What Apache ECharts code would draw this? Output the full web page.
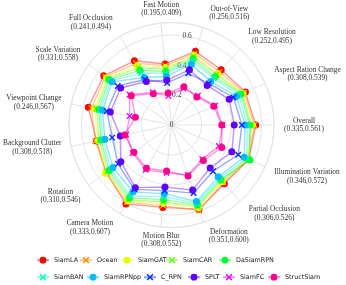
<!DOCTYPE html>
<html><head><meta charset="utf-8">
<script src="https://cdn.jsdelivr.net/npm/echarts@6/dist/echarts.min.js"></script>
<style>html,body{margin:0;padding:0;background:#fff}#c{width:346px;height:285px}</style>
</head><body><div id="c"></div>
<script>
const attributes = ['Overall','Aspect Ration Change','Low Resolution','Out-of-View','Fast Motion','Full Occlusion','Scale Variation','Viewpoint Change','Background Clutter','Rotation','Camera Motion','Motion Blur','Deformation','Partial Occlusion','Illumination Variation'];
const rangeMin = [0.335,0.308,0.252,0.256,0.195,0.241,0.331,0.246,0.308,0.310,0.333,0.308,0.351,0.306,0.346];
const rangeMax = [0.561,0.539,0.495,0.516,0.409,0.494,0.558,0.567,0.518,0.546,0.607,0.552,0.600,0.526,0.572];
const radialTicks = [0, 0.2, 0.4, 0.6];
const RMAX = 0.683;

const trackers = ['SiamLA','Ocean','SiamGAT','SiamCAR','DaSiamRPN','SiamBAN','SiamRPNpp','C_RPN','SPLT','SiamFC','StructSiam'];
const markers  = ['o','x','o','x','o','x','o','x','o','x','o'];
const colors   = ['#ff0000','#ff8b00','#e8ff00','#5dff00','#00ff2e','#00ffb9','#00b9ff','#002eff','#5d00ff','#e800ff','#ff008b'];

// values per attribute, in the order of `attributes`
const SiamLA     = [0.561,0.539,0.495,0.516,0.409,0.494,0.558,0.567,0.510,0.540,0.607,0.552,0.590,0.526,0.565];
const Ocean      = [0.552,0.530,0.478,0.500,0.398,0.475,0.545,0.545,0.518,0.538,0.595,0.540,0.600,0.515,0.560];
const SiamGAT    = [0.540,0.522,0.460,0.488,0.385,0.455,0.535,0.525,0.500,0.546,0.585,0.525,0.580,0.508,0.555];
const SiamCAR    = [0.530,0.515,0.450,0.478,0.375,0.440,0.525,0.510,0.492,0.528,0.575,0.515,0.570,0.500,0.560];
const DaSiamRPN  = [0.522,0.505,0.433,0.464,0.358,0.420,0.515,0.495,0.480,0.515,0.560,0.500,0.560,0.490,0.572];
const SiamBAN    = [0.505,0.490,0.420,0.448,0.345,0.400,0.500,0.485,0.468,0.500,0.545,0.480,0.548,0.478,0.550];
const SiamRPNpp  = [0.491,0.473,0.390,0.426,0.325,0.365,0.489,0.470,0.454,0.482,0.515,0.460,0.536,0.465,0.530];
const C_RPN      = [0.469,0.452,0.372,0.362,0.282,0.350,0.443,0.440,0.404,0.440,0.495,0.440,0.477,0.414,0.487];
const SPLT       = [0.418,0.421,0.355,0.387,0.300,0.335,0.419,0.417,0.349,0.417,0.482,0.415,0.456,0.385,0.440];
const SiamFC     = [0.340,0.318,0.262,0.256,0.195,0.250,0.345,0.285,0.308,0.318,0.345,0.320,0.351,0.306,0.346];
const StructSiam = [0.335,0.308,0.252,0.268,0.215,0.241,0.331,0.246,0.318,0.310,0.333,0.308,0.358,0.318,0.367];
const trackerValues = [SiamLA,Ocean,SiamGAT,SiamCAR,DaSiamRPN,SiamBAN,SiamRPNpp,C_RPN,SPLT,SiamFC,StructSiam];

// ---- layout / style constants ----
const X_SYMBOL = 'path://M1.5,0L5,3.5L8.5,0L10,1.5L6.5,5L10,8.5L8.5,10L5,6.5L1.5,10L0,8.5L3.5,5L0,1.5Z';
const SERIF = 'Liberation Serif';
const CENTER = [171.5, 125];
const RADIUS = 102.5;
const GRID = '#e4e4e4';
// small label nudges [dx, dy] (px) relative to the default radar name anchor
const NAME_SHIFT = [[0,0],[0,-5],[1.5,-5],[3,-5],[1.5,-4],[-2.5,-5],[0,-5],[0,1],[0,-1],[0,5],[-2,5],[1.5,3],[2.5,4],[2,5],[0,6]];
const CENTER_NAMES = [4, 11];
// legend rows
const LEGEND_ROWS = [{top: 256.8, left: [36, 79, 120, 165, 218]}, {top: 273.8, left: [36, 86, 143, 187, 222, 267]}];

const symbolOf = k => markers[k] === 'x' ? X_SYMBOL : 'circle';
const sizeOf = k => markers[k] === 'x' ? 6.5 : 7;

const chart = echarts.init(document.getElementById('c'), null, {renderer: 'canvas'});

const legendText = {fontFamily: 'DejaVu Sans', fontSize: 6.4, color: '#222'};
const legends = [];
let li = 0;
LEGEND_ROWS.forEach(row => {
  row.left.forEach(x => {
    legends.push({left: x, top: row.top, padding: 0, itemWidth: 12, itemHeight: 8.5, itemGap: 0,
      data: [trackers[li]], textStyle: legendText});
    li++;
  });
});

const indicators = attributes.map((a, i) => {
  const ang = i * 2 * Math.PI / attributes.length;
  const c = Math.cos(ang);
  const align = CENTER_NAMES.includes(i) ? 'center' : (c > 0 ? 'left' : 'right');
  const [dx, dy] = NAME_SHIFT[i];
  const pad = [dy > 0 ? 2 * dy : 0,
               (align === 'right' && dx < 0) ? -dx : 0,
               dy < 0 ? -2 * dy : 0,
               (align === 'left' && dx > 0) ? dx : ((align === 'center' && dx > 0) ? 2 * dx : 0)];
  return {name: a, min: 0, max: RMAX, nameTextStyle: {align: align, verticalAlign: 'middle', padding: pad}};
});

const option = {
  animation: false,
  backgroundColor: '#fff',
  grid: {left: 0, top: 0, width: 1, height: 1, show: false},
  xAxis: {type: 'value', show: false},
  yAxis: {type: 'value', show: false},
  polar: [
    {center: CENTER, radius: RADIUS},
    {center: CENTER, radius: RADIUS}
  ],
  angleAxis: [
    {polarIndex: 0, type: 'value', min: 0, max: 360, interval: 24, startAngle: 0, clockwise: false,
     axisLine: {show: true, lineStyle: {color: GRID, width: 1}},
     axisTick: {show: false}, axisLabel: {show: false},
     splitLine: {show: true, lineStyle: {color: GRID, width: 1}}},
    {polarIndex: 1, type: 'value', min: 0, max: 360, startAngle: 80, show: false}
  ],
  radiusAxis: [
    {polarIndex: 0, min: 0, max: RMAX, interval: 0.2,
     axisLine: {show: false}, axisTick: {show: false}, axisLabel: {show: false},
     splitLine: {show: true, lineStyle: {color: GRID, width: 1}}},
    {polarIndex: 1, min: 0, max: RMAX, interval: 0.2,
     axisLine: {show: false}, axisTick: {show: false}, splitLine: {show: false},
     axisLabel: {show: true, margin: 0, align: 'center', verticalAlign: 'middle',
       fontFamily: SERIF, fontSize: 7.4, color: '#444', showMaxLabel: false,
       formatter: v => radialTicks.some(t => Math.abs(t - v) < 1e-6) ? String(+v.toFixed(1)) : ''}}
  ],
  radar: {
    center: CENTER,
    radius: RADIUS,
    startAngle: 0,
    shape: 'circle',
    axisNameGap: 10,
    indicator: indicators,
    axisName: {
      show: true, color: '#333', fontFamily: SERIF, fontSize: 7.4, lineHeight: 8.6,
      formatter: (name) => {
        const i = attributes.indexOf(name);
        return '{t|' + name + '}\n{t|(' + rangeMin[i].toFixed(3) + ',' + rangeMax[i].toFixed(3) + ')}';
      },
      rich: {t: {align: 'center', fontFamily: SERIF, fontSize: 7.4, lineHeight: 8.6, color: '#333'}}
    },
    axisLine: {show: false}, axisTick: {show: false}, axisLabel: {show: false},
    splitLine: {show: false}, splitArea: {show: false}
  },
  legend: legends,
  series: [
    // legend-only line series (empty) so legend icons show line + marker
    ...trackers.map((name, k) => ({
      type: 'line', name, data: [], symbol: symbolOf(k), symbolSize: sizeOf(k),
      itemStyle: {color: colors[k]},
      lineStyle: {color: colors[k], width: 1.5, opacity: 0.45}
    })),
    ...trackers.map((name, k) => ({
      type: 'radar', name, z: 2,
      symbol: symbolOf(k), symbolSize: sizeOf(k),
      itemStyle: {color: colors[k], opacity: 1},
      lineStyle: {color: colors[k], width: 1.4, opacity: 0.42},
      data: [{name, value: trackerValues[k]}]
    }))
  ]
};
chart.setOption(option);
</script>
</body></html>
